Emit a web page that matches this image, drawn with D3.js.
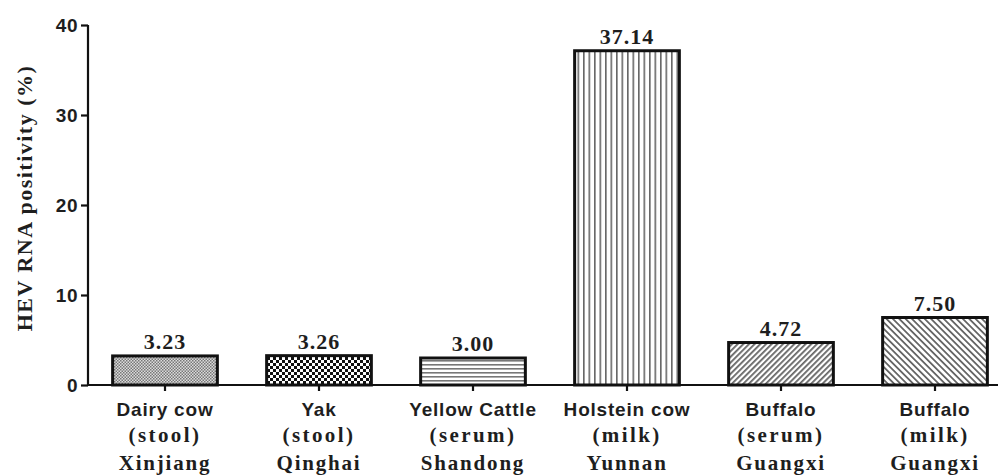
<!DOCTYPE html>
<html>
<head>
<meta charset="utf-8">
<script src="https://cdn.jsdelivr.net/npm/d3@7"></script>
<style>
  html, body { margin: 0; padding: 0; background: #fff; }
  svg { display: block; }
</style>
</head>
<body>
<script>
// HEV RNA positivity by host, sample type and province
const animals   = ["Dairy cow", "Yak", "Yellow Cattle", "Holstein cow", "Buffalo", "Buffalo"];
const samples   = ["(stool)", "(stool)", "(serum)", "(milk)", "(serum)", "(milk)"];
const provinces = ["Xinjiang", "Qinghai", "Shandong", "Yunnan", "Guangxi", "Guangxi"];
const positivity = [3.23, 3.26, 3.00, 37.14, 4.72, 7.50];
const fills = ["fineCheck", "dotCheck", "hLines", "vLines", "diagUp", "diagDown"];
const yTicks = [0, 10, 20, 30, 40];

const W = 998, H = 475;
const SANS = "'Liberation Sans', Arial, sans-serif";
const SERIF = "'Liberation Serif', 'Times New Roman', serif";
const INK = "#1e1e1e";

const svg = d3.select("body").append("svg").attr("width", W).attr("height", H);

// Hatch / dot fills
const defs = svg.append("defs");
function pat(id, w, h, draw) {
  const p = defs.append("pattern").attr("id", id).attr("patternUnits", "userSpaceOnUse")
    .attr("width", w).attr("height", h);
  p.append("rect").attr("width", w).attr("height", h).attr("fill", "#fff");
  draw(p);
}
pat("fineCheck", 3, 3, p => {
  p.append("rect").attr("width", 3).attr("height", 3).attr("fill", "#dcdcdc");
  p.append("rect").attr("x", 0).attr("y", 0).attr("width", 1.5).attr("height", 1.5).attr("fill", "#777");
  p.append("rect").attr("x", 1.5).attr("y", 1.5).attr("width", 1.5).attr("height", 1.5).attr("fill", "#777");
});
pat("dotCheck", 6, 6, p => {
  p.append("rect").attr("x", 0).attr("y", 0).attr("width", 3).attr("height", 3).attr("fill", "#111");
  p.append("rect").attr("x", 3).attr("y", 3).attr("width", 3).attr("height", 3).attr("fill", "#111");
});
pat("hLines", 4, 4, p => {
  p.append("rect").attr("y", 0).attr("width", 4).attr("height", 1.6).attr("fill", "#777");
});
pat("vLines", 5.5, 4, p => {
  p.append("rect").attr("x", 0).attr("width", 1.6).attr("height", 4).attr("fill", "#666");
});
pat("diagUp", 4, 4, p => {
  p.attr("patternTransform", "rotate(45)");
  p.append("rect").attr("width", 1.8).attr("height", 4).attr("fill", "#666");
});
pat("diagDown", 4.5, 4.5, p => {
  p.attr("patternTransform", "rotate(-45)");
  p.append("rect").attr("width", 1.8).attr("height", 4.5).attr("fill", "#666");
});

const x = d3.scaleBand().domain(d3.range(positivity.length)).range([88, 1012])
  .paddingInner(0.32).paddingOuter(0.16);
const y = d3.scaleLinear().domain([0, 40]).range([385, 25]);

// Bars
svg.append("g").selectAll("rect").data(positivity).join("rect")
  .attr("x", (d, i) => x(i))
  .attr("y", d => y(d))
  .attr("width", x.bandwidth())
  .attr("height", d => y(0) - y(d))
  .attr("fill", (d, i) => `url(#${fills[i]})`)
  .attr("stroke", "#111").attr("stroke-width", 3);

// Value labels
svg.append("g").selectAll("text").data(positivity).join("text")
  .attr("x", (d, i) => x(i) + x.bandwidth() / 2)
  .attr("y", d => y(d) - 7)
  .attr("text-anchor", "middle")
  .attr("font-family", SERIF)
  .attr("font-weight", "bold").attr("font-size", 22).attr("fill", INK)
  .attr("letter-spacing", 1)
  .text(d => d.toFixed(2));

// Y axis
const yAxis = svg.append("g").attr("transform", "translate(88,0)")
  .call(d3.axisLeft(y).tickValues(yTicks).tickSize(7).tickPadding(3));
yAxis.select(".domain").attr("stroke", "#111").attr("stroke-width", 2.2).attr("d", "M0,25V385");
yAxis.selectAll(".tick line").attr("stroke", "#111").attr("stroke-width", 2.2);
yAxis.selectAll(".tick text").attr("font-family", SANS)
  .attr("font-weight", "bold").attr("font-size", 19).attr("fill", INK)
  .attr("letter-spacing", 0.5);

// X axis
const xAxis = svg.append("g").attr("transform", "translate(0,385)")
  .call(d3.axisBottom(x).tickSize(6).tickFormat(""));
xAxis.select(".domain").attr("stroke", "#111").attr("stroke-width", 2.2).attr("d", "M87,0H1012");
xAxis.selectAll(".tick line").attr("stroke", "#111").attr("stroke-width", 2.2);

// Category labels (three lines each)
const cat = svg.append("g").selectAll("g").data(animals).join("g")
  .attr("transform", (d, i) => `translate(${x(i) + x.bandwidth() / 2},0)`);
cat.append("text").attr("y", 416).attr("text-anchor", "middle")
  .attr("font-family", SANS)
  .attr("font-weight", "bold").attr("font-size", 19).attr("fill", INK)
  .attr("letter-spacing", 0.8)
  .text(d => d);
cat.append("text").attr("y", 442).attr("text-anchor", "middle")
  .attr("font-family", SERIF)
  .attr("font-weight", "bold").attr("font-size", 21).attr("fill", INK)
  .attr("letter-spacing", 2.4)
  .text((d, i) => samples[i]);
cat.append("text").attr("y", 470).attr("text-anchor", "middle")
  .attr("font-family", SERIF)
  .attr("font-weight", "bold").attr("font-size", 21).attr("fill", INK)
  .attr("letter-spacing", 1.8)
  .text((d, i) => provinces[i]);

// Y axis title
svg.append("text")
  .attr("transform", "translate(32,198) rotate(-90)")
  .attr("text-anchor", "middle")
  .attr("font-family", SERIF)
  .attr("font-weight", "bold").attr("font-size", 22).attr("fill", INK)
  .attr("letter-spacing", 1.5)
  .text("HEV RNA positivity (%)");
</script>
</body>
</html>
